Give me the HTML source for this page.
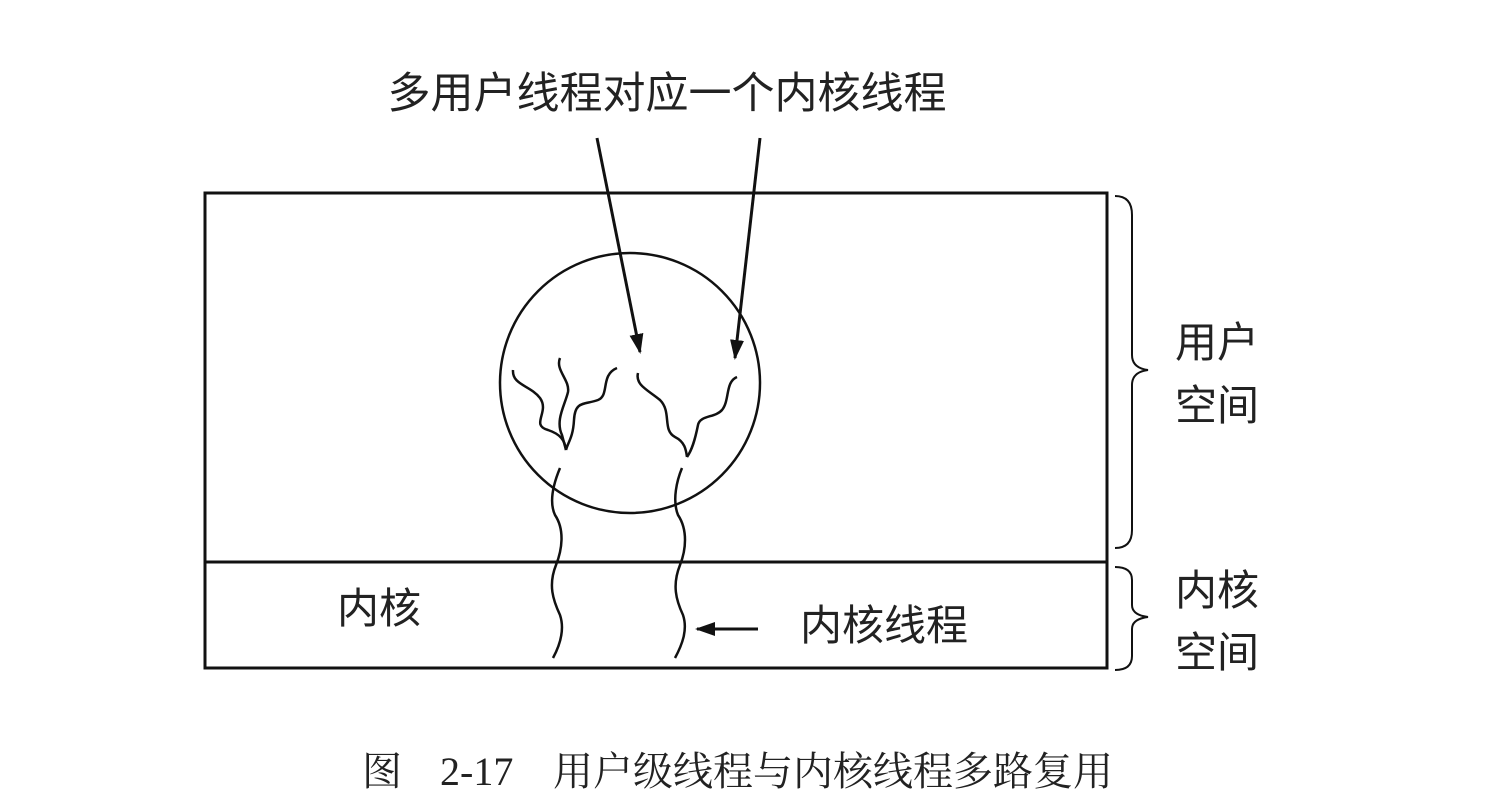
<!DOCTYPE html>
<html><head><meta charset="utf-8"><style>
html,body{margin:0;padding:0;background:#fff;width:1488px;height:800px;overflow:hidden}
svg{display:block}
text{font-family:"Liberation Sans","Noto Sans CJK SC",sans-serif;fill:#222}
</style></head><body>
<svg width="1488" height="800" viewBox="0 0 1488 800" xmlns="http://www.w3.org/2000/svg">
<defs><marker id="ah2" markerWidth="20" markerHeight="14" refX="18" refY="7" orient="auto" markerUnits="userSpaceOnUse"><path d="M0,0 L20,7 L0,14 Z" fill="#111"/></marker></defs>
<g fill="none" stroke="#111" stroke-width="3">
<rect x="205" y="193" width="902" height="475"/>
<line x1="205" y1="562" x2="1107" y2="562"/>
<circle cx="630" cy="383" r="130" stroke-width="2.5"/>
<line x1="597" y1="138" x2="640" y2="352" marker-end="url(#ah2)"/>
<line x1="760" y1="138" x2="735" y2="358" marker-end="url(#ah2)"/>
<line x1="758" y1="629" x2="697" y2="629" marker-end="url(#ah2)"/>
<g stroke-width="2.5">
<path d="M513,370 C512,385 530,385 540,398 C550,412 530,425 548,430 C560,434 565,440 566,450"/>
<path d="M560,358 C555,370 570,380 568,392 C565,405 555,420 562,435 L566,450"/>
<path d="M617,368 C600,375 610,395 598,400 C585,405 575,400 574,420 C573,438 568,442 566,450"/>
<path d="M638,373 C635,385 648,390 660,400 C672,412 662,430 675,437 C685,442 686,450 687,457"/>
<path d="M737,377 C725,382 730,400 722,410 C715,418 700,415 698,425 C695,440 692,450 687,457"/>
<path d="M560,468 C555,480 548,500 555,515 C565,530 562,550 556,565 C548,585 553,600 560,615 C565,630 560,645 553,658"/>
<path d="M682,468 C677,480 672,500 678,515 C688,530 686,550 680,565 C672,585 676,600 683,615 C688,630 682,645 675,658"/>
<path d="M1115,196 Q1132,196 1132,215 L1132,355 Q1132,368 1148,370 Q1132,372 1132,385 L1132,530 Q1132,548 1115,548" stroke-width="2"/>
<path d="M1115,567 Q1132,567 1132,580 L1132,605 Q1132,615 1148,617 Q1132,619 1132,629 L1132,656 Q1132,670 1115,670" stroke-width="2"/>
</g></g>
<text x="667" y="108" font-size="43" text-anchor="middle">多用户线程对应一个内核线程</text>
<text x="1175" y="357" font-size="42">用户</text>
<text x="1175" y="420" font-size="42">空间</text>
<text x="1175" y="605" font-size="42">内核</text>
<text x="1175" y="667" font-size="42">空间</text>
<text x="337" y="623" font-size="42">内核</text>
<text x="800" y="640" font-size="42">内核线程</text>
<text y="785" font-size="40" style="font-family:'Liberation Serif','Noto Serif CJK SC',serif"><tspan x="362">图</tspan><tspan x="440">2-17</tspan><tspan x="553">用户级线程与内核线程多路复用</tspan></text>
</svg>
</body></html>
